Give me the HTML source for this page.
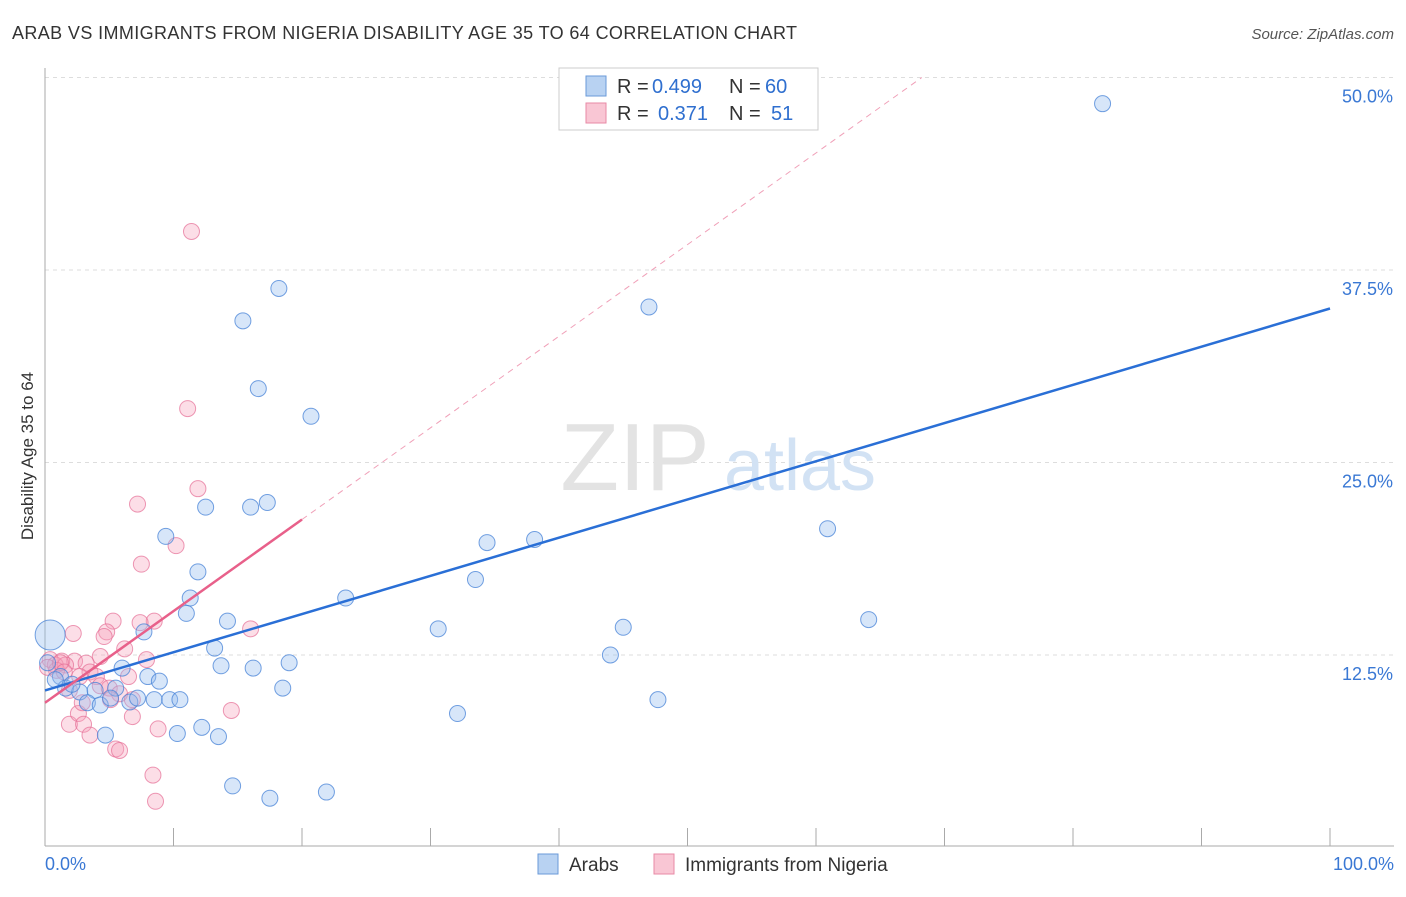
<!DOCTYPE html>
<html><head><meta charset="utf-8"><style>
body{margin:0;background:#fff;font-family:"Liberation Sans",sans-serif;}
svg text{font-family:"Liberation Sans",sans-serif;}
</style></head><body>
<svg id="c" width="1406" height="892" xmlns="http://www.w3.org/2000/svg">
<text x="12" y="39" font-size="18" fill="#333" textLength="785">ARAB VS IMMIGRANTS FROM NIGERIA DISABILITY AGE 35 TO 64 CORRELATION CHART</text>
<text x="1394" y="39" font-size="15" fill="#555" text-anchor="end" font-style="italic">Source: ZipAtlas.com</text>
<text x="0" y="0" transform="translate(33,456) rotate(-90)" font-size="17" fill="#333" text-anchor="middle">Disability Age 35 to 64</text>
<g id="grid"></g>
<text x="635" y="490" font-size="96" fill="#e3e3e3" text-anchor="middle" font-family="Liberation Serif">ZIP</text>
<text x="800" y="490" font-size="72" fill="#d2e2f4" text-anchor="middle">atlas</text>
<g id="marks"></g>
<g>
<rect x="559" y="68" width="259" height="62" fill="#fff" stroke="#ccc"/>
<rect x="586" y="76" width="20" height="20" fill="#b8d2f2" stroke="#6a9ad8"/>
<rect x="586" y="103" width="20" height="20" fill="#f9c6d4" stroke="#e88aa6"/>
<text x="617" y="93" font-size="20" fill="#333">R =</text>
<text x="652" y="93" font-size="20" fill="#2f6fcf">0.499</text>
<text x="729" y="93" font-size="20" fill="#333">N =</text>
<text x="765" y="93" font-size="20" fill="#2f6fcf">60</text>
<text x="617" y="120" font-size="20" fill="#333">R =</text>
<text x="658" y="120" font-size="20" fill="#2f6fcf">0.371</text>
<text x="729" y="120" font-size="20" fill="#333">N =</text>
<text x="771" y="120" font-size="20" fill="#2f6fcf">51</text>
</g>
<g>
<rect x="538" y="854" width="20" height="20" fill="#b8d2f2" stroke="#6a9ad8"/>
<text x="569" y="871" font-size="19" fill="#333">Arabs</text>
<rect x="654" y="854" width="20" height="20" fill="#f9c6d4" stroke="#e88aa6"/>
<text x="685" y="871" font-size="19" fill="#333">Immigrants from Nigeria</text>
</g>
</svg>
<script>
const yTicks=[12.5,25,37.5,50];
const yTickLabels=["12.5%","25.0%","37.5%","50.0%"];
const xTickLabels=["0.0%","100.0%"];
const arabX=[82.3,18.2,15.4,47.0,16.6,20.7,12.5,16.0,17.3,9.4,60.9,34.4,38.1,11.9,33.5,11.3,23.4,11.0,64.1,14.2,7.7,30.6,45.0,13.2,44.0,19.0,13.7,16.2,6.0,8.0,8.9,18.5,1.2,1.6,2.7,3.9,5.5,3.3,4.3,6.6,7.2,8.5,9.7,10.5,47.7,32.1,12.2,10.3,13.5,4.7,14.6,17.5,21.9,0.4,2.1,0.8,5.1,0.2];
const arabY=[48.3,36.3,34.2,35.1,29.8,28.0,22.1,22.1,22.4,20.2,20.7,19.8,20.0,17.9,17.4,16.2,16.2,15.2,14.8,14.7,14.0,14.2,14.3,12.95,12.5,12.0,11.8,11.65,11.65,11.1,10.8,10.35,11.1,10.35,10.1,10.2,10.35,9.4,9.25,9.45,9.7,9.6,9.6,9.6,9.6,8.7,7.8,7.4,7.2,7.3,4.0,3.2,3.6,13.8,10.6,10.9,9.7,12.0];
const nigX=[11.4,11.1,11.9,7.2,10.2,7.5,5.3,8.5,7.4,16.0,4.8,2.2,4.6,6.2,4.3,7.9,2.3,3.2,1.3,0.4,0.8,1.6,3.5,4.0,6.5,2.7,0.9,4.3,1.9,5.0,5.8,6.8,1.9,14.5,2.6,6.8,3.0,3.5,8.8,5.5,5.8,8.4,8.6,0.2,1.2,1.5,5.1,2.9];
const nigY=[40.0,28.5,23.3,22.3,19.6,18.4,14.7,14.7,14.6,14.2,14.0,13.9,13.7,12.9,12.4,12.2,12.1,11.97,12.1,12.2,11.85,11.85,11.4,11.1,11.1,11.1,11.5,10.5,10.2,10.35,9.98,9.6,8.0,8.9,8.7,8.5,8.0,7.3,7.7,6.4,6.3,4.7,3.0,11.7,12.0,11.4,9.6,9.4];
const arabTrend=[10.2,35.0];
const nigTrend=[9.4,21.3];
const nigTrendEndX=20;
const X=v=>45+v*12.85, Y=v=>847.5-v*15.4;
const NS="http://www.w3.org/2000/svg";
function mk(t,a,p){const e=document.createElementNS(NS,t);for(const k in a)e.setAttribute(k,a[k]);p.appendChild(e);return e;}
const g=document.getElementById('grid'), m=document.getElementById('marks');
yTicks.forEach((t,i)=>{
 const l=mk('line',{x1:45,x2:1394,y1:Y(t),y2:Y(t),stroke:'#ddd','stroke-dasharray':'4,4'},g);
 
 
 const tx=mk('text',{x:1393,y:Y(t)+25,'font-size':18,fill:'#3a78d4','text-anchor':'end'},g);
 tx.textContent=yTickLabels[i];
 
 
});
mk('line',{x1:45,x2:45,y1:68,y2:846,stroke:'#aaa'},g);
mk('line',{x1:45,x2:1394,y1:846,y2:846,stroke:'#aaa'},g);
for(let i=0;i<=10;i++){mk('line',{x1:X(i*10),x2:X(i*10),y1:828,y2:846,stroke:'#aaa'},g);}
[[0,45,'start'],[1,1394,'end']].forEach(([i,x,a])=>{const t=mk('text',{x:x,y:870,'font-size':18,fill:'#3a78d4','text-anchor':a},g);t.textContent=xTickLabels[i];

});
const slope=(nigTrend[1]-nigTrend[0])/nigTrendEndX;
const xEnd=(50-nigTrend[0])/slope;
const dl=mk('line',{x1:X(nigTrendEndX),y1:Y(nigTrend[1]),x2:X(xEnd),y2:Y(50),stroke:'#f0a0b8','stroke-dasharray':'6,5','stroke-width':1},m);


nigX.forEach((x,i)=>{const c=mk('circle',{cx:X(x),cy:Y(nigY[i]),r:8,fill:'rgba(245,160,185,0.35)',stroke:'rgba(230,110,150,0.7)','stroke-width':1},m);

});
arabX.forEach((x,i)=>{const c=mk('circle',{cx:X(x),cy:Y(arabY[i]),r:(i==53?15:8),fill:'rgba(150,190,240,0.38)',stroke:'rgba(70,130,215,0.75)','stroke-width':1},m);

});
const bl=mk('line',{x1:X(0),y1:Y(arabTrend[0]),x2:X(100),y2:Y(arabTrend[1]),stroke:'#2a6fd6','stroke-width':2.5},m);


const pl=mk('line',{x1:X(0),y1:Y(nigTrend[0]),x2:X(nigTrendEndX),y2:Y(nigTrend[1]),stroke:'#e8608a','stroke-width':2.5},m);


</script>
</body></html>
